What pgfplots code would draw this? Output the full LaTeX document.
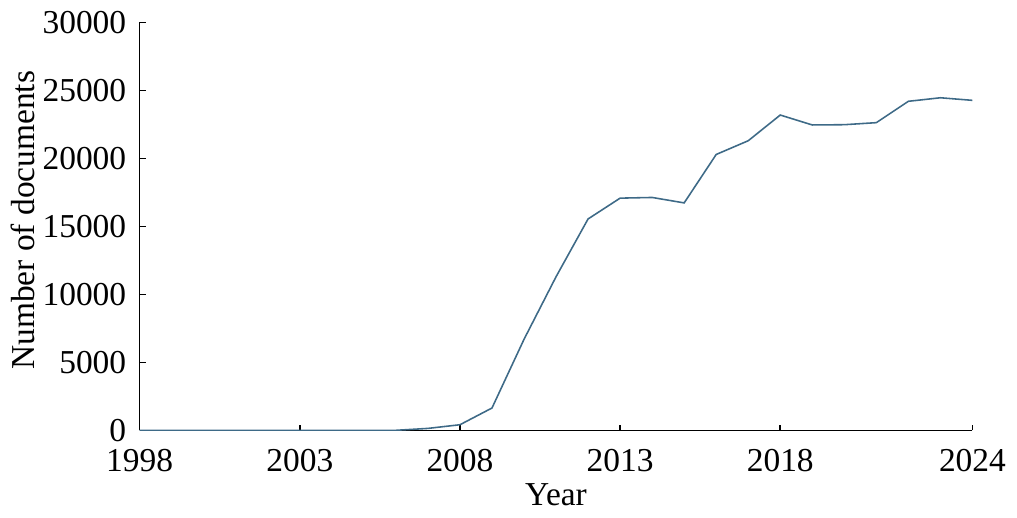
\documentclass[border=0pt]{standalone}
\usepackage{pgfplots}
\pgfplotsset{compat=1.18}
\usepackage{fontspec}
\setmainfont{Liberation Serif}
\definecolor{lineblue}{RGB}{62,106,135}
\begin{document}
\fontsize{17}{20}\selectfont
\begin{tikzpicture}
\begin{axis}[
  width=423.5pt, height=207.5pt, scale only axis,
  xmin=1998, xmax=2024, ymin=0, ymax=30000,
  axis lines=left, axis line style={-, line width=0.8pt},
  tick align=inside, major tick length=3pt,
  tick style={black, line width=0.8pt},
  xtick={1998,2003,2008,2013,2018,2024},
  ytick={0,5000,10000,15000,20000,25000,30000},
  scaled y ticks=false,
  /pgf/number format/assume math mode=true,
  /pgf/number format/1000 sep={},
  tick label style={font=\fontsize{17}{20}\selectfont},
  xticklabel style={yshift=-3.5pt},
  yticklabel style={xshift=-1pt},
  xlabel={Year}, ylabel={Number of documents},
  label style={font=\fontsize{17}{20}\selectfont},
  xlabel style={at={(axis description cs:0.5,-0.158)}, anchor=center},
  ylabel style={at={(axis description cs:-0.14,0.515)}, anchor=center},
]
\addplot[color=lineblue, line width=0.8pt, mark=none] coordinates {
(1998,0) (1999,0) (2000,0) (2001,0) (2002,0) (2003,0) (2004,0) (2005,0)
(2006,10) (2007,150) (2008,420) (2009,1650) (2010,6700) (2011,11300)
(2012,15550) (2013,17080) (2014,17130) (2015,16730) (2016,20290)
(2017,21300) (2018,23190) (2019,22460) (2020,22480) (2021,22630)
(2022,24200) (2023,24460) (2024,24270)
};
\end{axis}
\end{tikzpicture}
\end{document}
